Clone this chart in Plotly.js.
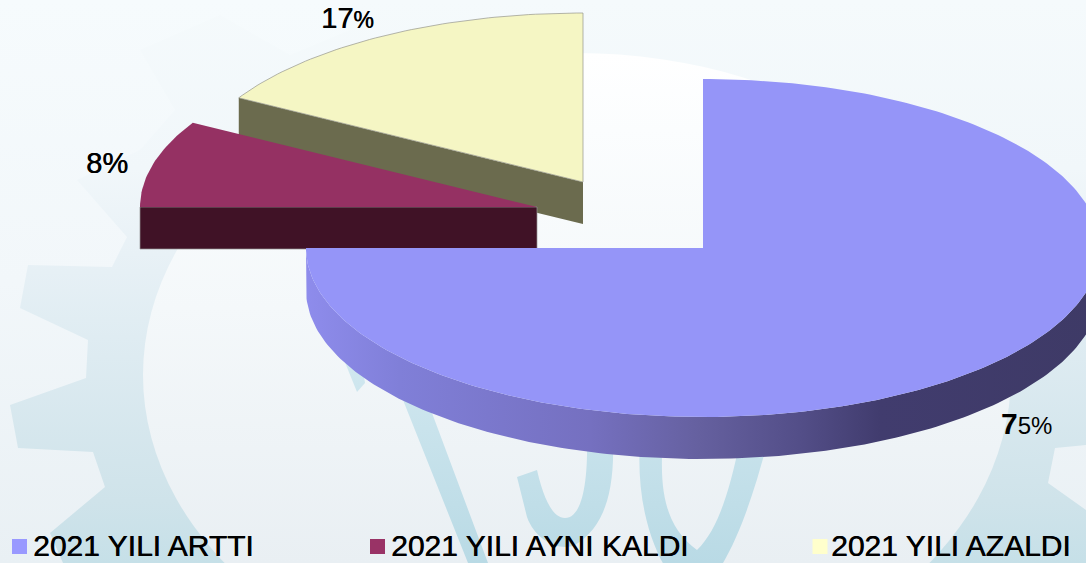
<!DOCTYPE html>
<html>
<head>
<meta charset="utf-8">
<script src="https://cdn.plot.ly/plotly-3.0.1.min.js"></script>
<style>html,body{margin:0;padding:0;background:#f0f5f8;overflow:hidden}#chart{width:1086px;height:563px}</style>
</head>
<body>
<div id="chart"></div>
<script>
// ---- data ----
const categories = ['2021 YILI ARTTI', '2021 YILI AYNI KALDI', '2021 YILI AZALDI'];
const percentValues = [75, 8.3, 16.7];

// ---- styles ----
const topColors = ['#9595F8', '#953163', '#F5F6C4'];
const sideColors = ['#8c8ae8', '#401226', '#6B6B4E'];
const legendColors = ['#9999FF', '#993366', '#FFFFCC'];
const legendMarkerX = [19.5, 377.5, 820];
const legendTextX = [33, 391, 831];
const legendY = 546.5;
const legendTextY = 548;
const sliceCenters = [[703, 248], [537, 207], [583, 182]];
const labelOffsets = [[43, 14], [-46, 0], [-37, -18]];
const labelBigChars = [1, 2, 2];
const labelBigSize = [30, 29, 29];
const labelSmallSize = [24, 29, 23];
const RX = 397, RY = 169, DEPTH = 42;
const FONT = '"Liberation Sans", Arial, sans-serif';
const HEAVY = '0.5px 0 0 #000';

const total = percentValues.reduce((a, b) => a + b, 0);
let acc = 0;
const sliceAngles = percentValues.map(v => {
  const a0 = acc / total * 360;
  acc += v;
  return [a0, acc / total * 360];
});

const rim = (c, deg) => {
  const t = deg * Math.PI / 180;
  return [c[0] + RX * Math.sin(t), c[1] - RY * Math.cos(t)];
};
const arc = (c, a0, a1) => {
  const pts = [];
  const n = Math.max(2, Math.ceil((a1 - a0)));
  for (let i = 0; i <= n; i++) pts.push(rim(c, a0 + (a1 - a0) * i / n));
  return pts;
};
const poly = (pts, opts) => Object.assign({
  type: 'scatter', mode: 'lines', x: pts.map(p => p[0]), y: pts.map(p => p[1]),
  fill: 'toself', line: {width: 0}, hoverinfo: 'skip', showlegend: false
}, opts);

function topFace(i, line) {
  const c = sliceCenters[i], [a0, a1] = sliceAngles[i];
  const pts = [c, ...arc(c, a0, a1), c];
  return poly(pts, {fillcolor: topColors[i], line: line || {width: 0}, name: categories[i]});
}

// yellow slice (at the back)
const yC = sliceCenters[2], yA = sliceAngles[2][0];
const yRim = rim(yC, yA);
const ySide = poly([yRim, yC, [yC[0], yC[1] + DEPTH], [yRim[0], yRim[1] + DEPTH], yRim], {fillcolor: sideColors[2]});
const yTop = topFace(2, {width: 1, color: 'rgba(150,150,140,0.7)'});

// burgundy slice
const bC = sliceCenters[1], bA = sliceAngles[1][0];
const bRim = rim(bC, bA);
const bSide = poly([bRim, [bC[0], bC[1]], [bC[0], bC[1] + DEPTH], [bC[0] - RX, bC[1] + DEPTH], [bC[0] - RX, bC[1]], bRim],
                   {fillcolor: sideColors[1], line: {width: 1, color: 'rgba(150,150,150,0.7)'}});
const bTop = topFace(1);

// large slice, curved wall with a horizontal shade
const aC = sliceCenters[0];
const wallTop = arc(aC, 90, sliceAngles[0][1]);
const wallBottom = wallTop.map(p => [p[0], p[1] + DEPTH]).reverse();
const aSide = poly([...wallTop, ...wallBottom, wallTop[0]], {
  fillgradient: {
    type: 'horizontal', start: aC[0] - RX, stop: aC[0] + RX,
    colorscale: [[0, '#8e8cec'], [0.118, '#807fd8'], [0.358, '#7570c0'], [0.496, '#65609f'],
                 [0.622, '#534e88'], [0.723, '#413c6e'], [1, '#3e3a66']]
  }
});
const aTop = topFace(0);

// legend markers and texts
const legendMarkers = {
  type: 'scatter', mode: 'markers', x: legendMarkerX, y: categories.map(() => legendY),
  marker: {symbol: 'square', size: 15, color: legendColors, line: {width: 0}},
  hoverinfo: 'skip', showlegend: false, cliponaxis: false
};
const legendTexts = {
  type: 'scatter', mode: 'text', x: legendTextX, y: categories.map(() => legendTextY),
  text: categories, textposition: 'middle right',
  textfont: {family: FONT, size: 30, color: '#000', shadow: HEAVY},
  hoverinfo: 'skip', showlegend: false, cliponaxis: false
};

// value labels
const annotations = percentValues.map((v, i) => {
  const [a0, a1] = sliceAngles[i];
  const p = rim(sliceCenters[i], (a0 + a1) / 2);
  const depthShift = i === 0 ? DEPTH : 0;
  const s = Math.round(v) + '%';
  const big = s.slice(0, labelBigChars[i]), small = s.slice(labelBigChars[i]);
  const bigTxt = i === 0 ? '<b>' + big + '</b>' : big;
  const font = {family: FONT, size: labelBigSize[i], color: '#000'};
  if (i > 0) font.shadow = HEAVY;
  return {
    xref: 'x', yref: 'y', x: p[0] + labelOffsets[i][0], y: p[1] + depthShift + labelOffsets[i][1],
    showarrow: false, xanchor: 'center', yanchor: 'middle',
    text: '<span style="font-size:' + labelBigSize[i] + 'px">' + bigTxt + '</span>' +
          '<span style="font-size:' + labelSmallSize[i] + 'px">' + small + '</span>',
    font: font
  };
});

// ---- decorative backdrop (faded gear and letters) ----
const backdrop = `<svg xmlns="http://www.w3.org/2000/svg" width="1086" height="563" viewBox="0 0 1086 563">
<defs>
<linearGradient id="bg" gradientUnits="userSpaceOnUse" x1="0" y1="0" x2="0" y2="563"><stop offset="0" stop-color="#f6fbfd"/><stop offset="0.5" stop-color="#f2f7fa"/><stop offset="1" stop-color="#e9f0f4"/></linearGradient>
<linearGradient id="gear" gradientUnits="userSpaceOnUse" x1="0" y1="0" x2="0" y2="563"><stop offset="0" stop-color="#f5fafc"/><stop offset="0.3" stop-color="#f1f7fa"/><stop offset="0.45" stop-color="#e8f1f6"/><stop offset="0.6" stop-color="#dfecf2"/><stop offset="0.89" stop-color="#cfe3ea"/><stop offset="1" stop-color="#c6e0e8"/></linearGradient>
<linearGradient id="inner" gradientUnits="userSpaceOnUse" x1="0" y1="53" x2="0" y2="563"><stop offset="0" stop-color="#ffffff"/><stop offset="0.15" stop-color="#fbfdfe"/><stop offset="0.5" stop-color="#f4f8fa"/><stop offset="1" stop-color="#e9eff3"/></linearGradient>
<linearGradient id="let" gradientUnits="userSpaceOnUse" x1="0" y1="370" x2="0" y2="563"><stop offset="0" stop-color="#d0e7ef"/><stop offset="1" stop-color="#b9dae5"/></linearGradient>
<filter id="soft"><feGaussianBlur stdDeviation="0.7"/></filter>
</defs>
<rect width="1086" height="563" fill="url(#bg)"/>
<g filter="url(#soft)">
<path fill="url(#gear)" d="M63,563 L50,533 L105,487 L93,452 L18,448 L10,405 L86,378 L88,340 L20,308 L28,265 L112,267 L127,237 L77,180 L140,150 L175,110 L140,50 L220,15 L290,55 L350,30 L340,0 L1086,0 L1086,445 L1055,448 L1048,483 L1086,510 L1086,563 Z"/>
<ellipse cx="577" cy="375" rx="434" ry="322" fill="url(#inner)"/>
<path fill="url(#let)" d="M340,350 L357,392 L365,383 L360,350 Z"/>
<path fill="url(#let)" d="M395,380 L425,380 L432,413 L488,563 L468,563 L405,405 Z"/>
<path fill="url(#let)" d="M517,477 L537,470 C545,505 555,518 565,518 C580,518 588,490 587,440 L613,440 C615,500 600,530 575,545 C560,552 535,540 527,517 Z"/>
<path fill="url(#let)" d="M640,440 C636,500 650,560 690,600 C725,580 750,510 768,440 L740,440 C730,490 718,530 697,550 C670,530 658,500 663,440 Z"/>
</g></svg>`;

const layout = {
  width: 1086, height: 563,
  margin: {l: 0, r: 0, t: 0, b: 0, pad: 0},
  paper_bgcolor: 'rgba(0,0,0,0)', plot_bgcolor: 'rgba(0,0,0,0)',
  xaxis: {range: [0, 1086], visible: false, fixedrange: true},
  yaxis: {range: [563, 0], visible: false, fixedrange: true},
  showlegend: false,
  annotations: annotations,
  images: [{
    source: 'data:image/svg+xml;charset=utf-8,' + encodeURIComponent(backdrop),
    xref: 'paper', yref: 'paper', x: 0, y: 1, sizex: 1, sizey: 1,
    xanchor: 'left', yanchor: 'top', sizing: 'stretch', layer: 'below'
  }]
};

Plotly.newPlot('chart', [ySide, yTop, bSide, bTop, aSide, aTop, legendMarkers, legendTexts], layout, {displayModeBar: false, responsive: false});
</script>
</body>
</html>
